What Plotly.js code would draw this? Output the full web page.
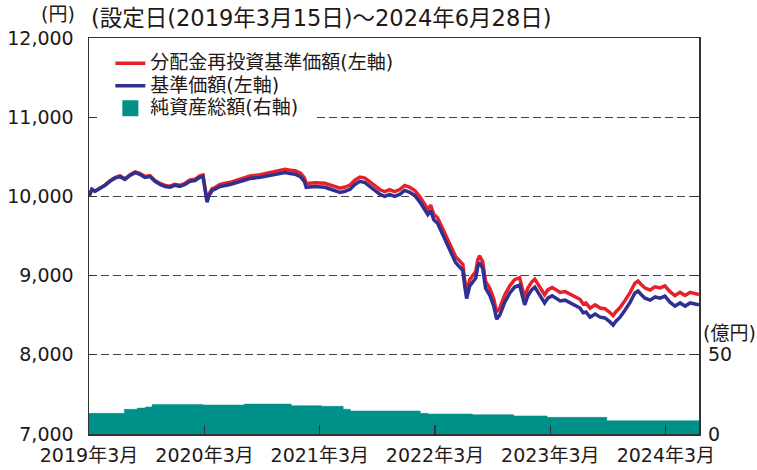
<!DOCTYPE html>
<html>
<head>
<meta charset="utf-8">
<script src="https://cdn.plot.ly/plotly-3.0.1.min.js"></script>
<style>html,body{margin:0;padding:0;background:#fff;}#chart{width:757px;height:470px;}</style>
</head>
<body>
<div id="chart"></div>
<script>
const navDates = ['2019-03-15','2019-03-24','2019-04-03','2019-04-19','2019-05-05','2019-05-20','2019-06-05','2019-06-21','2019-07-07','2019-07-23','2019-08-08','2019-08-23','2019-09-08','2019-09-24','2019-10-10','2019-10-26','2019-11-11','2019-11-26','2019-12-12','2019-12-28','2020-01-13','2020-01-29','2020-02-14','2020-02-29','2020-03-10','2020-03-16','2020-03-23','2020-03-29','2020-04-08','2020-04-17','2020-05-03','2020-06-04','2020-07-05','2020-08-06','2020-09-07','2020-10-08','2020-11-09','2020-11-25','2020-12-11','2020-12-27','2021-01-12','2021-01-25','2021-01-31','2021-02-28','2021-03-31','2021-05-02','2021-05-18','2021-06-03','2021-06-19','2021-07-04','2021-07-20','2021-08-05','2021-08-21','2021-09-06','2021-09-22','2021-10-07','2021-10-22','2021-11-07','2021-11-23','2021-12-09','2021-12-25','2022-01-10','2022-01-25','2022-02-10','2022-02-20','2022-03-01','2022-03-11','2022-03-23','2022-04-08','2022-04-24','2022-05-07','2022-05-19','2022-06-01','2022-06-11','2022-06-17','2022-06-23','2022-07-03','2022-07-12','2022-07-22','2022-07-28','2022-08-03','2022-08-13','2022-08-22','2022-09-04','2022-09-17','2022-09-26','2022-10-06','2022-10-22','2022-11-07','2022-11-22','2022-12-08','2022-12-15','2022-12-24','2023-01-03','2023-01-15','2023-01-25','2023-02-03','2023-02-16','2023-02-25','2023-03-07','2023-03-21','2023-04-02','2023-04-15','2023-05-01','2023-05-17','2023-06-01','2023-06-17','2023-06-27','2023-07-06','2023-07-19','2023-08-04','2023-08-20','2023-09-04','2023-09-20','2023-09-30','2023-10-09','2023-10-22','2023-11-07','2023-11-23','2023-12-08','2023-12-18','2023-12-27','2024-01-09','2024-01-25','2024-02-10','2024-02-26','2024-03-12','2024-03-28','2024-04-13','2024-04-29','2024-05-15','2024-05-31','2024-06-12','2024-06-28'];

const navValues = [10000,10090,10065,10100,10140,10190,10230,10250,10215,10265,10300,10280,10240,10250,10190,10150,10125,10115,10140,10125,10150,10190,10200,10240,10250,10100,9925,10010,10075,10090,10125,10150,10190,10225,10240,10265,10280,10300,10290,10280,10250,10190,10115,10125,10115,10075,10050,10065,10090,10150,10190,10175,10125,10065,10025,10000,10025,10000,10025,10075,10050,10010,9935,9835,9770,9820,9705,9660,9530,9395,9270,9165,9100,9065,8870,8710,8870,8920,8970,9110,9165,9090,8840,8755,8615,8450,8500,8665,8780,8855,8880,8765,8630,8745,8820,8855,8795,8715,8655,8715,8745,8715,8680,8690,8655,8615,8590,8530,8540,8475,8515,8475,8465,8415,8375,8425,8475,8565,8665,8780,8805,8765,8715,8690,8730,8715,8740,8665,8615,8655,8615,8655,8645,8630];

const reinvestValues = [10000,10090,10065,10103,10145,10195,10237,10258,10223,10275,10310,10290,10251,10262,10202,10163,10138,10129,10154,10140,10166,10207,10218,10259,10270,10120,9945,10030,10097,10112,10150,10178,10220,10257,10275,10302,10320,10341,10332,10323,10295,10236,10162,10173,10165,10127,10103,10118,10144,10205,10245,10231,10182,10123,10084,10060,10085,10061,10087,10138,10114,10075,10001,9902,9838,9889,9775,9731,9602,9468,9344,9240,9176,9142,8948,8789,8950,9001,9052,9193,9250,9176,8927,8843,8704,8540,8591,8757,8873,8949,8975,8861,8727,8843,8919,8955,8896,8817,8758,8819,8850,8821,8787,8798,8764,8725,8701,8642,8653,8589,8630,8591,8582,8533,8494,8545,8596,8687,8788,8904,8930,8891,8842,8818,8859,8845,8871,8797,8748,8788,8749,8789,8777,8760];

const aumDates = ['2019-03-15','2019-07-05','2019-08-15','2019-09-10','2019-10-01','2020-03-10','2020-07-18','2020-12-15','2021-03-20','2021-05-28','2021-06-20','2022-01-27','2022-02-21','2022-07-12','2022-11-19','2023-03-05','2023-09-10','2024-06-28'];
const aumValues = [12.9,15.4,16.2,16.9,18.5,18.1,18.7,17.7,17.3,15.5,14.4,12.9,12.5,12.1,11.3,10.4,8.3,8.3];

const xTickVals = ['2019-03-15','2020-03-15','2021-03-15','2022-03-15','2023-03-15','2024-03-15'];
const xTickText = ['2019年3月','2020年3月','2021年3月','2022年3月','2023年3月','2024年3月'];
const yTickVals = [7000,8000,9000,10000,11000,12000];
const y2TickVals = [0,50];
const seriesNames = ['分配金再投資基準価額(左軸)','基準価額(左軸)','純資産総額(右軸)'];

const FONT = 'DejaVu Sans, "Noto Sans CJK JP", sans-serif';
const TXT = '#231815';
const TEAL = '#00908a';
const big = s => '<span style="font-size:19px">' + s + '</span>';

const traces = [
  {x: navDates, y: reinvestValues, type: 'scatter', mode: 'lines', name: big(seriesNames[0]),
   line: {color: '#e8202a', width: 3.5}, hoverinfo: 'skip'},
  {x: navDates, y: navValues, type: 'scatter', mode: 'lines', name: big(seriesNames[1]),
   line: {color: '#2e3192', width: 3.5}, hoverinfo: 'skip'},
  {x: aumDates, y: aumValues, type: 'scatter', mode: 'lines', name: seriesNames[2], yaxis: 'y2', showlegend: false,
   line: {color: TEAL, width: 0.5, shape: 'hv'}, fill: 'tozeroy', fillcolor: TEAL, hoverinfo: 'skip'},
  {x: [null], y: [null], type: 'scatter', mode: 'markers', name: big(seriesNames[2]), yaxis: 'y2',
   marker: {symbol: 'square', size: 18, color: TEAL}, hoverinfo: 'skip'}
];

const layout = {
  width: 757, height: 470,
  margin: {l: 89, r: 58, t: 38, b: 36, pad: 0},
  paper_bgcolor: '#fff', plot_bgcolor: '#fff',
  font: {family: FONT, color: TXT, size: 19},
  showlegend: true,
  legend: {x: 0.035, y: 0.977, xanchor: 'left', yanchor: 'top', bgcolor: 'rgba(255,255,255,0)', borderwidth: 0,
           font: {family: FONT, size: 15, color: TXT}, itemwidth: 30, tracegroupgap: 0, itemsizing: 'trace'},
  xaxis: {type: 'date', range: ['2019-03-15','2024-06-28'], tickmode: 'array', tickvals: xTickVals, ticktext: xTickText,
          ticks: 'inside', ticklen: 9, tickwidth: 1.2, tickcolor: '#333', showline: true, linecolor: '#333', linewidth: 1.5,
          mirror: true, showgrid: false, zeroline: false, tickfont: {family: FONT, size: 19, color: TXT}, ticklabelstandoff: 4},
  yaxis: {range: [7000,12000], tickmode: 'array', tickvals: yTickVals, tickformat: ',d',
          ticks: 'inside', ticklen: 8, tickwidth: 1.2, tickcolor: '#333', showline: true, linecolor: '#333', linewidth: 1.5,
          mirror: 'ticks', showgrid: true, gridcolor: '#444', gridwidth: 1, griddash: '8px,4px', zeroline: false,
          tickfont: {family: FONT, size: 19, color: TXT}, ticklabelstandoff: 10},
  yaxis2: {overlaying: 'y', side: 'right', range: [0,247.5], tickmode: 'array', tickvals: y2TickVals,
           ticks: '', showgrid: false, showline: false, zeroline: false,
           tickfont: {family: FONT, size: 19, color: TXT}, ticklabelstandoff: 8},
  shapes: [
    {type: 'rect', xref: 'paper', yref: 'paper', x0: 0.0197, x1: 0.369, y0: 0.790, y1: 0.859,
     fillcolor: '#fff', line: {width: 0}, layer: 'above'}
  ],
  annotations: [
    {xref: 'paper', yref: 'paper', x: 0, y: 1.0505, xanchor: 'left', yanchor: 'middle', showarrow: false,
     text: '(設定日(2019年3月15日)～2024年6月28日)', font: {family: FONT, size: 22.5, color: TXT}},
    {xref: 'paper', yref: 'paper', x: -0.0508, y: 1.0606, xanchor: 'center', yanchor: 'middle', showarrow: false,
     text: '(円)', font: {family: FONT, size: 19, color: TXT}},
    {xref: 'paper', yref: 'paper', x: 1.003, y: 0.255, xanchor: 'left', yanchor: 'middle', showarrow: false,
     text: '(億円)', font: {family: FONT, size: 19, color: TXT}}
  ]
};

Plotly.newPlot('chart', traces, layout, {displayModeBar: false, staticPlot: true});
</script>
</body>
</html>
